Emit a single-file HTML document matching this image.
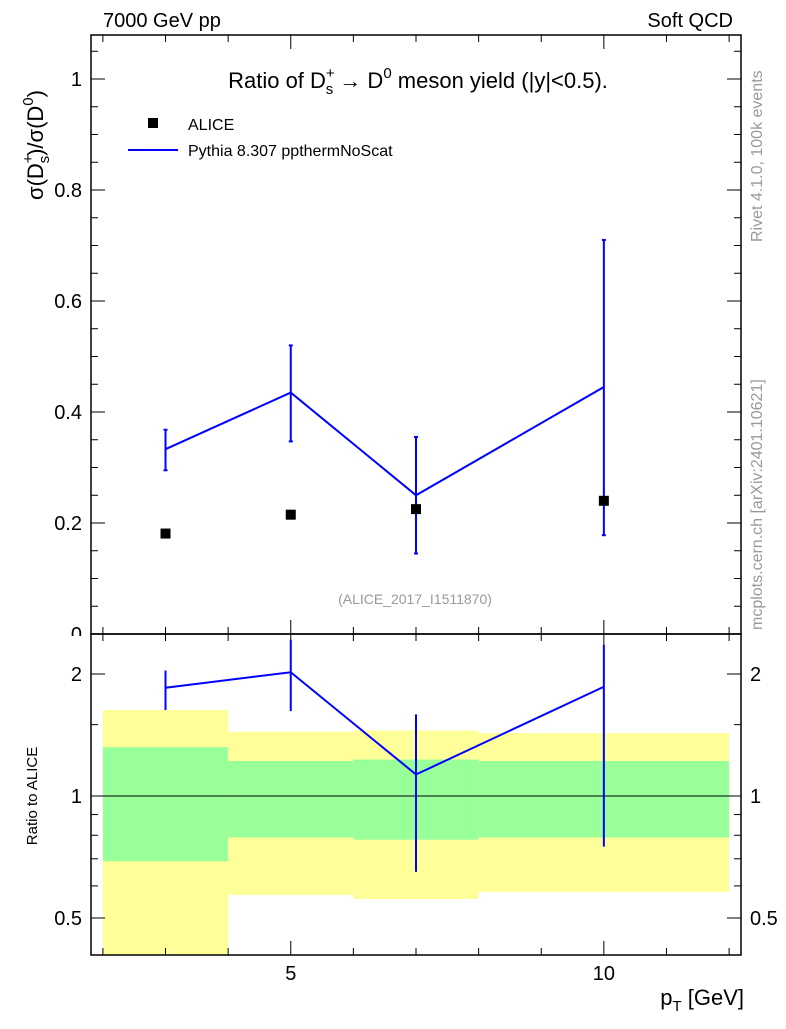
<!DOCTYPE html>
<html><head><meta charset="utf-8"><style>
body{margin:0;background:#fff}
svg{font-family:"Liberation Sans",sans-serif}
</style></head><body>
<svg id="c" width="786" height="1024" viewBox="0 0 786 1024">
<defs><clipPath id="clipTop"><rect x="0" y="0" width="786" height="636"/></clipPath></defs>
<g id="g"></g>
</svg>
<script>
const xs=[3,5,7,10];
const aliceVals=[0.181,0.215,0.225,0.24];
const pyVals=[0.333,0.435,0.25,0.445];
const pyLo=[0.295,0.347,0.145,0.178];
const pyHi=[0.368,0.52,0.355,0.71];
const binEdges=[2,4,6,8,12];
const greenLo=[0.69,0.79,0.78,0.79];
const greenHi=[1.32,1.22,1.23,1.22];
const yellowLo=[0.3,0.57,0.557,0.58];
const yellowHi=[1.63,1.44,1.45,1.43];
const rVals=[1.85,2.02,1.13,1.86];
const rLo=[1.63,1.62,0.65,0.75];
const rHi=[2.04,2.43,1.59,2.36];
const yTicks=[0,0.2,0.4,0.6,0.8,1];
const yTickLabels=["0","0.2","0.4","0.6","0.8","1"];
const rTicks=[0.5,1,2];
const rTickLabels=["0.5","1","2"];
const xTicks=[5,10];

const L=91,R=741,T=35,M=634,B=955;
const X=v=>L+(v-1.81)/(12.19-1.81)*(R-L);
const Y=v=>634-v*555;
const RY=v=>796-Math.log2(v)*122;
const g=document.getElementById('g');
const NS='http://www.w3.org/2000/svg';
function el(t,a,name,txt){const e=document.createElementNS(NS,t);for(const k in a)e.setAttribute(k,a[k]);


if(txt!==undefined)e.textContent=txt;g.appendChild(e);return e;}
for(let i=0;i<4;i++){
 const x1=X(binEdges[i]),x2=X(binEdges[i+1]);
 const yl=Math.min(RY(yellowLo[i]),B);
 el('rect',{x:x1,y:RY(yellowHi[i]),width:x2-x1,height:yl-RY(yellowHi[i]),fill:'#ffff99'},'yellow-band');
 el('rect',{x:x1,y:RY(greenHi[i]),width:x2-x1,height:RY(greenLo[i])-RY(greenHi[i]),fill:'#99ff99'},'green-band');
}
el('line',{x1:L,x2:R,y1:RY(1),y2:RY(1),stroke:'#000','stroke-width':1},'unity-line');
el('rect',{x:L,y:T,width:R-L,height:M-T,fill:'none',stroke:'#000','stroke-width':1.5},'main-frame');
el('rect',{x:L,y:M,width:R-L,height:B-M,fill:'none',stroke:'#000','stroke-width':1.5},'ratio-frame');
for(let v=2;v<=12;v++){const maj=xTicks.includes(v);const l=maj?14:7;
 [[M,-1],[T,1],[B,-1],[M,1]].forEach(([y0,d])=>el('line',{x1:X(v),x2:X(v),y1:y0,y2:y0+d*l,stroke:'#000'},'x-tick'));
 if(maj)el('text',{x:X(v),y:980,'font-size':20,'text-anchor':'middle'},'x-tick-label',String(v));}
for(let k=0;k<=21;k++){const v=k*0.05;if(Y(v)<T)continue;const maj=k%4==0;const l=maj?14:7;
 el('line',{x1:L,x2:L+l,y1:Y(v),y2:Y(v),stroke:'#000'},'y-tick');
 el('line',{x1:R,x2:R-l,y1:Y(v),y2:Y(v),stroke:'#000'},'y-tick');}
yTicks.forEach((v,i)=>el('text',{x:82,y:Y(v)+7,'font-size':20,'text-anchor':'end','clip-path':'url(#clipTop)'},'y-tick-label',yTickLabels[i]));
[0.5,0.6,0.7,0.8,0.9,1,1.5,2].forEach(v=>{const maj=rTicks.includes(v);const l=maj?14:7;
 el('line',{x1:L,x2:L+l,y1:RY(v),y2:RY(v),stroke:'#000'},'ratio-tick');
 el('line',{x1:R,x2:R-l,y1:RY(v),y2:RY(v),stroke:'#000'},'ratio-tick');});
rTicks.forEach((v,i)=>{el('text',{x:82,y:RY(v)+7,'font-size':20,'text-anchor':'end'},'ratio-tick-label',rTickLabels[i]);
 el('text',{x:750,y:RY(v)+7,'font-size':20},'ratio-tick-label-right',rTickLabels[i]);});
el('polyline',{points:xs.map((x,i)=>X(x)+','+Y(pyVals[i])).join(' '),fill:'none',stroke:'#0000ff','stroke-width':2},'pythia-line');
xs.forEach((x,i)=>{el('line',{x1:X(x),x2:X(x),y1:Y(pyLo[i]),y2:Y(pyHi[i]),stroke:'#0000ff','stroke-width':2},'pythia-errorbar');
 [pyLo[i],pyHi[i]].forEach(v=>el('line',{x1:X(x)-2,x2:X(x)+2,y1:Y(v),y2:Y(v),stroke:'#0000ff','stroke-width':2},'pythia-errcap'));});
xs.forEach((x,i)=>el('rect',{x:X(x)-5,y:Y(aliceVals[i])-5,width:10,height:10,fill:'#000'},'alice-point'));
el('polyline',{points:xs.map((x,i)=>X(x)+','+RY(rVals[i])).join(' '),fill:'none',stroke:'#0000ff','stroke-width':2},'ratio-line');
xs.forEach((x,i)=>{el('line',{x1:X(x),x2:X(x),y1:Math.max(RY(rHi[i]),M),y2:RY(rLo[i]),stroke:'#0000ff','stroke-width':2},'ratio-errorbar');});
el('text',{x:103,y:27,'font-size':20},'energy-label','7000 GeV pp');
el('text',{x:733,y:27,'font-size':20,'text-anchor':'end'},'process-label','Soft QCD');
const t=el('text',{x:418,y:88,'font-size':22,'text-anchor':'middle'},'plot-title');
t.innerHTML='Ratio of D<tspan font-size="15" dy="-10">+</tspan><tspan font-size="15" dx="-9" dy="16">s</tspan><tspan dy="-6"> → D</tspan><tspan font-size="15" dy="-10">0</tspan><tspan dy="10"> meson yield (|y|&lt;0.5).</tspan>';
el('rect',{x:148,y:118,width:10,height:10,fill:'#000'},'legend-alice-marker');
el('text',{x:188,y:130,'font-size':16},'legend-alice','ALICE');
el('line',{x1:128,x2:178,y1:150,y2:150,stroke:'#0000ff','stroke-width':2},'legend-pythia-line');
el('text',{x:188,y:156,'font-size':16},'legend-pythia','Pythia 8.307 ppthermNoScat');
el('text',{x:415,y:604,'font-size':14,fill:'#999','text-anchor':'middle'},'analysis-id','(ALICE_2017_I1511870)');
const yl=el('text',{transform:'translate(43,145) rotate(-90)','font-size':22,'text-anchor':'middle'},'y-axis-title');
yl.innerHTML='σ(D<tspan font-size="15" dy="-10">+</tspan><tspan font-size="15" dx="-9" dy="16">s</tspan><tspan dy="-6">)/σ(D</tspan><tspan font-size="15" dy="-10">0</tspan><tspan dy="10">)</tspan>';
el('text',{transform:'translate(37,796) rotate(-90)','font-size':15,'text-anchor':'middle'},'ratio-axis-title','Ratio to ALICE');
const xl=el('text',{x:744,y:1005,'font-size':22,'text-anchor':'end'},'x-axis-title');
xl.innerHTML='p<tspan font-size="15" dy="6">T</tspan><tspan dy="-6"> [GeV]</tspan>';
el('text',{transform:'translate(762,242) rotate(-90)','font-size':16,fill:'#999'},'rivet-label','Rivet 4.1.0,  100k events');
el('text',{transform:'translate(762,630) rotate(-90)','font-size':16,fill:'#999'},'mcplots-label','mcplots.cern.ch [arXiv:2401.10621]');
</script>
</body></html>
